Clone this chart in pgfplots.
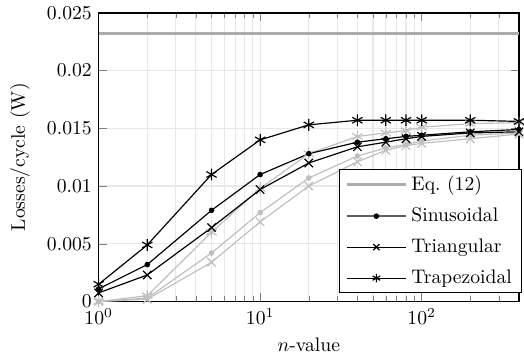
\documentclass[border=0pt]{standalone}
\usepackage{pgfplots}
\pgfplotsset{compat=1.18}
\begin{document}
\begin{tikzpicture}
\begin{axis}[
  scale only axis,
  width=214pt, height=147pt,
  xmode=log,
  xmin=1, xmax=400,
  ymin=0, ymax=0.025,
  ytick={0,0.005,0.01,0.015,0.02,0.025},
  scaled y ticks=false,
  yticklabel style={/pgf/number format/fixed,/pgf/number format/precision=3},
  xlabel={$n$-value},
  ylabel={Losses/cycle (W)},
  ylabel style={inner sep=5.2pt},
  xmajorgrids, xminorgrids, ymajorgrids,
  major grid style={gray!18, line width=0.6pt},
  minor grid style={gray!18, line width=0.6pt},
  axis line style={line width=0.7pt},
  legend cell align=left,
  legend style={at={(1.007,0.03)}, anchor=south east, draw=black, line width=0.6pt,
    row sep=3.3pt, inner xsep=2.8pt, inner ysep=1pt},
  legend image code/.code={\draw[mark repeat=2,mark phase=2,mark size=2.2pt] plot coordinates {(0cm,0cm) (0.53cm,0cm) (1.06cm,0cm)};},
]
% gray series (behind)
\addplot[forget plot, gray!50, line width=0.6pt, mark=*, mark size=1.1pt, mark options={fill=gray!50}] coordinates {
(1,0.0000) (2,0.0003) (5,0.0042) (10,0.0077) (20,0.0107) (40,0.0126) (60,0.0133) (80,0.0136) (100,0.0139) (200,0.0144) (400,0.0146)};
\addplot[forget plot, gray!50, line width=0.6pt, mark=x, mark size=3pt] coordinates {
(1,0.0000) (2,0.0002) (5,0.0034) (10,0.0069) (20,0.0100) (40,0.0121) (60,0.0131) (80,0.0135) (100,0.0137) (200,0.0141) (400,0.0145)};
\addplot[forget plot, gray!50, line width=0.6pt, mark=asterisk, mark size=3pt] coordinates {
(1,0.0000) (2,0.0005) (5,0.0060) (10,0.0098) (20,0.0128) (40,0.0143) (60,0.0146) (80,0.0148) (100,0.0151) (200,0.0154) (400,0.0155)};
% Eq. (12)
\addplot[gray!65, line width=1.5pt] coordinates {(1,0.0232) (400,0.0232)};
\addlegendentry{Eq.~(12)}
\addplot[black, line width=0.6pt, mark=*, mark size=1.1pt,
  legend image code/.code={\draw[gray!75!black, line width=1pt] (0cm,0cm) -- (1.06cm,0cm); \fill[black] (0.53cm,0cm) circle (1.1pt);}] coordinates {
(1,0.0011) (2,0.0032) (5,0.0079) (10,0.0110) (20,0.0128) (40,0.0138) (60,0.0141) (80,0.0143) (100,0.0144) (200,0.0147) (400,0.0149)};
\addlegendentry{Sinusoidal}
\addplot[black, line width=0.6pt, mark=x, mark size=3pt] coordinates {
(1,0.00075) (2,0.0023) (5,0.0064) (10,0.0097) (20,0.0120) (40,0.0134) (60,0.0138) (80,0.0141) (100,0.0143) (200,0.0146) (400,0.0147)};
\addlegendentry{Triangular}
\addplot[black, line width=0.6pt, mark=asterisk, mark size=3pt] coordinates {
(1,0.0015) (2,0.0049) (5,0.0110) (10,0.0140) (20,0.0153) (40,0.0157) (60,0.0157) (80,0.0157) (100,0.0157) (200,0.0157) (400,0.0156)};
\addlegendentry{Trapezoidal}
\end{axis}
\end{tikzpicture}
\end{document}
